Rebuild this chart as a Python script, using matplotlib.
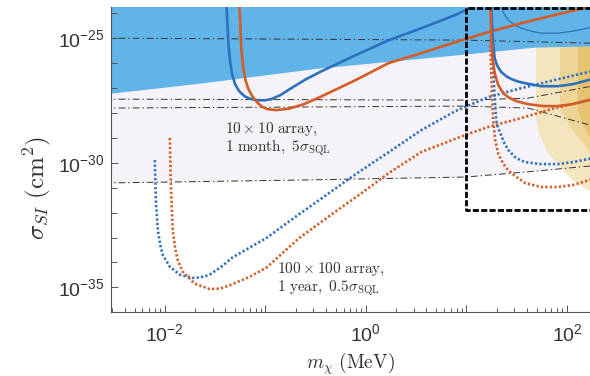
import numpy as np
import matplotlib
matplotlib.use("Agg")
import matplotlib.pyplot as plt

plt.rcParams['mathtext.fontset'] = 'cm'
plt.rcParams['mathtext.rm'] = 'Liberation Sans'
plt.rcParams['mathtext.it'] = 'Liberation Sans:italic'
plt.rcParams['mathtext.bf'] = 'Liberation Sans:bold'

# ---------------- data (log10 values) ----------------
# 10x10 array, 1 month (solid), low-mass branch
blue_solid_lx = [-1.386, -1.366, -1.350, -1.330, -1.300, -1.260, -1.208, -1.150, -1.089, -1.010, -0.941, -0.850, -0.762, -0.600, -0.436, -0.099, 0.228, 0.554, 0.891, 1.119]
blue_solid_ly = [-23.66, -25.27, -25.95, -26.45, -26.85, -27.12, -27.32, -27.43, -27.48, -27.49, -27.44, -27.28, -27.05, -26.65, -26.31, -25.67, -25.07, -24.59, -24.06, -23.62]
orange_solid_lx = [-1.257, -1.238, -1.218, -1.198, -1.170, -1.130, -1.079, -1.030, -0.980, -0.891, -0.762, -0.614, -0.436, -0.260, -0.099, 0.228, 0.554, 0.891, 1.218, 1.545, 1.881, 2.257]
orange_solid_ly = [-23.66, -25.47, -26.20, -26.67, -27.02, -27.32, -27.58, -27.75, -27.84, -27.88, -27.82, -27.64, -27.32, -26.98, -26.67, -25.99, -25.59, -25.15, -24.75, -24.39, -24.06, -23.70]
# high-mass branch
blue_solid2_lx = [1.248, 1.258, 1.268, 1.282, 1.307, 1.347, 1.400, 1.446, 1.510, 1.584, 1.743, 1.911, 2.059, 2.257]
blue_solid2_ly = [-23.58, -24.67, -25.30, -25.80, -26.10, -26.35, -26.53, -26.63, -26.73, -26.80, -26.92, -26.92, -26.84, -26.63]
orange_solid2_lx = [1.238, 1.248, 1.262, 1.285, 1.315, 1.347, 1.380, 1.416, 1.495, 1.614, 1.762, 1.911, 2.059, 2.257]
orange_solid2_ly = [-23.58, -25.07, -25.90, -26.45, -26.85, -27.08, -27.24, -27.36, -27.52, -27.64, -27.72, -27.72, -27.64, -27.44]
blue_thin_lx = [1.337, 1.366, 1.416, 1.485, 1.545, 1.644, 1.743, 1.911, 2.059, 2.257]
blue_thin_ly = [-23.58, -23.94, -24.27, -24.47, -24.59, -24.71, -24.79, -24.79, -24.71, -24.55]

# 100x100 array, 1 year (dotted)
blue_dot_lx = [-2.099, -2.089, -2.069, -2.045, -2.020, -1.950, -1.851, -1.723, -1.640, -1.554, -1.440, -1.327, -0.990, -0.663, -0.337, -0.099, 0.228, 0.554, 0.891, 1.218, 1.545, 1.881, 2.257]
blue_dot_ly = [-29.89, -31.50, -32.70, -33.30, -33.70, -34.17, -34.49, -34.62, -34.60, -34.49, -34.18, -33.80, -33.02, -32.06, -31.13, -30.45, -29.57, -28.68, -27.92, -27.36, -27.00, -26.67, -26.31]
orange_dot_lx = [-1.950, -1.941, -1.921, -1.896, -1.871, -1.822, -1.703, -1.554, -1.450, -1.356, -1.158, -0.990, -0.663, -0.337, 0.000, 0.228, 0.554, 0.990, 1.218, 1.545, 1.881, 2.257]
orange_dot_ly = [-29.00, -30.69, -32.70, -33.45, -33.90, -34.37, -34.85, -35.07, -35.05, -34.92, -34.58, -34.21, -33.02, -32.06, -31.09, -30.41, -29.56, -28.88, -28.56, -28.20, -27.80, -27.44]
blue_dot2_lx = [1.258, 1.277, 1.287, 1.297, 1.315, 1.337, 1.375, 1.416, 1.495, 1.584, 1.743, 1.911, 2.059, 2.257]
blue_dot2_ly = [-25.07, -27.08, -27.68, -28.28, -28.60, -28.80, -29.18, -29.48, -29.81, -29.97, -30.05, -30.05, -29.97, -29.81]
orange_dot2_lx = [1.238, 1.258, 1.267, 1.287, 1.315, 1.347, 1.395, 1.446, 1.584, 1.743, 1.911, 2.059, 2.257]
orange_dot2_ly = [-25.27, -27.48, -28.28, -29.08, -29.60, -29.89, -30.20, -30.41, -30.81, -30.97, -30.97, -30.89, -30.65]

# excluded region (blue) lower edge
excl_lx = [-2.6, -1.653, -0.465, 0.990, 1.683, 2.3]
excl_ly = [-27.23, -26.80, -26.19, -25.63, -25.35, -25.30]

# dash-dot reference lines
dd_a_lx = [-2.6, 0.990, 2.3]
dd_a_ly = [-24.99, -25.07, -25.20]
dd_b_lx = [-2.6, 0.990, 1.614, 2.3]
dd_b_ly = [-27.44, -27.48, -27.40, -26.88]
dd_c_lx = [-2.6, 0.990, 1.614, 2.3]
dd_c_ly = [-27.80, -27.72, -27.80, -28.56]
dd_d_lx = [-2.6, -0.663, 0.990, 1.584, 2.3]
dd_d_ly = [-30.81, -30.69, -30.57, -30.37, -30.10]

# yellow (astrophysical) regions: left boundaries
yel1_lx = [1.693, 1.693, 1.713, 1.792, 1.931, 2.059, 2.208, 2.4]
yel1_ly = [-23.0, -28.16, -28.68, -29.48, -30.17, -30.69, -31.09, -31.5]
yel2_lx = [1.931, 1.931, 2.059, 2.208, 2.4]
yel2_ly = [-23.0, -27.88, -28.68, -29.48, -30.3]
yel3_lx = [2.109, 2.109, 2.208, 2.4]
yel3_ly = [-23.0, -27.9, -28.88, -29.6]

# zoom box
box_x = 10.0
box_y = 1.3e-32
box_top = 10 ** -23.80

x_major = [-2, -1, 0, 1, 2]
x_labeled = [-2, 0, 2]
y_labeled = [-35, -30, -25]
y_minor = list(range(-36, -23))

# ---------------- figure ----------------
W, H = 590, 376
fig = plt.figure(figsize=(W / 100, H / 100), dpi=100)
ax = fig.add_axes([111 / W, 1 - 312 / H, 1 - 111 / W, (312 - 7) / H])
ax.set_xscale('log')
ax.set_yscale('log')

E = lambda a: 10.0 ** np.asarray(a, dtype=float)
TOP = 1e-22

# lavender region
ax.fill_between(E(dd_d_lx), E(dd_d_ly), TOP, color='#f5f3f8', lw=0, zorder=0.5)

# yellow regions
for lx, ly, col in [(yel1_lx, yel1_ly, '#f4e5bf'), (yel2_lx, yel2_ly, '#eed597'), (yel3_lx, yel3_ly, '#e6c370')]:
    xs = list(E(lx)) + [E(2.4), E(2.4)]
    ys = list(E(ly)) + [E(ly[-1]), E(-23.0)]
    ax.fill(xs, ys, color=col, lw=0, zorder=0.7)

# blue excluded region
ax.fill_between(E(excl_lx), E(excl_ly), TOP, color='#61b4e7', lw=0, zorder=1)

# dash-dot lines
for lx, ly in [(dd_a_lx, dd_a_ly), (dd_b_lx, dd_b_ly), (dd_c_lx, dd_c_ly), (dd_d_lx, dd_d_ly)]:
    ax.plot(E(lx), E(ly), color='#333333', lw=0.7, ls=(0, (7, 3, 1.5, 3)), zorder=2)

BLUE = '#2f70be'
ORANGE = '#d35c27'
dot = (0, (0.85, 0.85))

ax.plot(E(blue_dot_lx), E(blue_dot_ly), color=BLUE, lw=1.9, ls=dot, zorder=3)
ax.plot(E(orange_dot_lx), E(orange_dot_ly), color=ORANGE, lw=1.9, ls=dot, zorder=3)
ax.plot(E(blue_dot2_lx), E(blue_dot2_ly), color=BLUE, lw=1.9, ls=dot, zorder=3)
ax.plot(E(orange_dot2_lx), E(orange_dot2_ly), color=ORANGE, lw=1.9, ls=dot, zorder=3)

kw = dict(lw=1.9, zorder=3.2, solid_joinstyle='round', solid_capstyle='round')
ax.plot(E(blue_solid_lx), E(blue_solid_ly), color=BLUE, **kw)
ax.plot(E(orange_solid_lx), E(orange_solid_ly), color=ORANGE, **kw)
ax.plot(E(blue_solid2_lx), E(blue_solid2_ly), color=BLUE, **kw)
ax.plot(E(orange_solid2_lx), E(orange_solid2_ly), color=ORANGE, **kw)
ax.plot(E(blue_thin_lx), E(blue_thin_ly), color=BLUE, lw=0.9, zorder=3.1)

# zoom box
ax.plot([1e3, box_x, box_x, 1e3], [box_top, box_top, box_y, box_y], color='black', lw=2.0,
        ls=(0, (2.2, 0.8)), zorder=4)

# annotations
tkw = dict(transform=ax.transAxes, fontsize=11, color='#333333', ha='left', va='center', zorder=5)
ax.text(0.238, 0.600, r'$10\times10\ \mathrm{array,}$', **tkw)
ax.text(0.238, 0.538, r'$1\ \mathrm{month,}\ 5\sigma_{\mathrm{SQL}}$', **tkw)
ax.text(0.346, 0.138, r'$100\times100\ \mathrm{array,}$', **tkw)
ax.text(0.346, 0.079, r'$1\ \mathrm{year,}\ 0.5\sigma_{\mathrm{SQL}}$', **tkw)

# axes styling
for s in ['top', 'right']:
    ax.spines[s].set_visible(False)
for s in ['left', 'bottom']:
    ax.spines[s].set_color('#555555')
    ax.spines[s].set_linewidth(0.8)
    ax.spines[s].set_zorder(6)

ax.set_xticks([10.0 ** k for k in x_major],
              [r'$10^{%d}$' % k if k in x_labeled else '' for k in x_major])
xminor = [m * 10.0 ** k for k in range(-3, 3) for m in range(2, 10)]
ax.set_xticks(xminor, minor=True)
ax.set_xticklabels([], minor=True)
ax.set_yticks([10.0 ** k for k in y_labeled], [r'$10^{%d}$' % k for k in y_labeled])
ax.set_yticks([10.0 ** k for k in y_minor if k not in y_labeled], minor=True)
ax.set_yticklabels([], minor=True)
ax.tick_params(which='both', direction='in', color='#555555', width=0.7)
ax.tick_params(which='major', length=5, labelsize=14, labelcolor='#333333')
ax.tick_params(which='minor', length=3)
ax.tick_params(axis='y', which='minor', length=4)
ax.tick_params(axis='x', which='major', pad=8)
ax.tick_params(axis='y', which='major', pad=5)
for t in ax.get_xticklabels() + ax.get_yticklabels():
    t.set_math_fontfamily('custom')

ax.set_xlim(10 ** -2.535, 10 ** 2.23)
ax.set_ylim(10 ** -35.99, 10 ** -23.74)

ax.set_xlabel(r'$m_\chi\ (\mathrm{MeV})$', fontsize=14, color='#333333', labelpad=4)
ax.set_ylabel(r'$\sigma_{SI}\ (\mathrm{cm}^2)$', fontsize=18, color='#333333')
ax.yaxis.set_label_coords(-0.121, 0.407)

fig.savefig('out.png', dpi=100)
